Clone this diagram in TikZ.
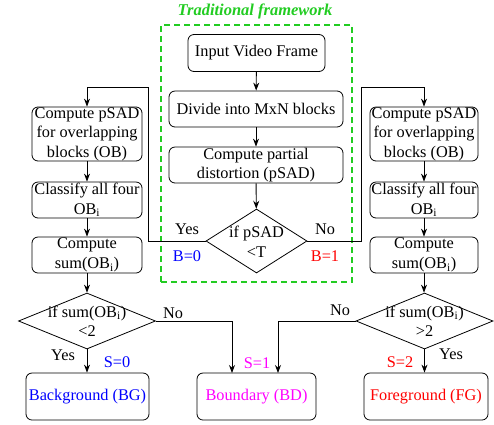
\documentclass[tikz,border=0pt]{standalone}
\usepackage{fontspec}
\setmainfont{Liberation Serif}
\usetikzlibrary{shapes.geometric,arrows.meta}
\definecolor{tgreen}{RGB}{34,204,34}
\definecolor{tblue}{RGB}{0,0,255}
\definecolor{tred}{RGB}{255,0,0}
\definecolor{tmag}{RGB}{255,0,255}
\begin{document}
\begin{tikzpicture}[x=1pt,y=-1pt,
  every node/.style={font=\fontsize{16.3}{19.5}\selectfont},
  box/.style={draw,rounded corners=6pt,line width=0.8pt,align=center,inner sep=0pt},
  dia/.style={draw,diamond,line width=0.8pt,inner sep=0pt},
  arr/.style={-{Stealth[length=8pt,width=6pt]},line width=0.9pt},
  lbl/.style={inner sep=0pt}]
\useasboundingbox (0,0) rectangle (494,424);
% title and frame
\node[lbl,text=tgreen,font=\fontsize{16.5}{19}\selectfont\bfseries\itshape] (title) at (255,11) {Traditional framework};
\node[draw=tgreen,dashed,dash pattern=on 6pt off 4pt,line width=1.6pt,minimum width=191pt,minimum height=257pt,inner sep=0pt] (frame) at (256.5,153.5) {};
% middle column
\node[box,minimum width=137pt,minimum height=37pt] (inp) at (256.5,53) {Input Video Frame};
\node[box,minimum width=174pt,minimum height=36pt] (div) at (256,109) {Divide into MxN blocks};
\node[box,minimum width=174pt,minimum height=36pt] (cpd) at (256,165) {Compute partial\\distortion (pSAD)};
\node[dia,minimum width=101pt,minimum height=64pt] (pdia) at (256.5,241) {};
\node[lbl,align=center] (pdiat) at (256.5,242) {if pSAD\\<T};
\node[box,minimum width=119pt,minimum height=47pt,text=tmag] (bd) at (256.5,396.5) {Boundary (BD)};
% left column
\node[box,minimum width=110pt,minimum height=54pt] (lop) at (87,134) {Compute pSAD\\for overlapping\\blocks (OB)};
\node[box,minimum width=110pt,minimum height=36pt] (lcl) at (87,200) {Classify all four\\OB\textsubscript{i}};
\node[box,minimum width=110pt,minimum height=36pt] (lsum) at (87,255) {Compute\\sum(OB\textsubscript{i})};
\node[dia,minimum width=137pt,minimum height=56pt] (ldia) at (87,321) {};
\node[lbl,align=center] (ldiat) at (87,321) {if sum(OB\textsubscript{i})\\<2};
\node[box,minimum width=123pt,minimum height=47pt,text=tblue] (bg) at (87.5,396.5) {Background (BG)};
% right column
\node[box,minimum width=108pt,minimum height=54pt] (rop) at (424,134) {Compute pSAD\\for overlapping\\blocks (OB)};
\node[box,minimum width=108pt,minimum height=36pt] (rcl) at (424,200) {Classify all four\\OB\textsubscript{i}};
\node[box,minimum width=108pt,minimum height=36pt] (rsum) at (424,255) {Compute\\sum(OB\textsubscript{i})};
\node[dia,minimum width=137pt,minimum height=56pt] (rdia) at (424.5,321) {};
\node[lbl,align=center] (rdiat) at (424.5,321) {if sum(OB\textsubscript{i})\\>2};
\node[box,minimum width=124pt,minimum height=47pt,text=tred] (fg) at (426,396.5) {Foreground (FG)};
% helper coordinates
\coordinate (lc) at (148,87);
\coordinate (rc) at (361,87);
\coordinate (bdl) at (232,373);
\coordinate (bdr) at (278,373);
% connectors
\draw[arr] (inp) -- (div);
\draw[arr] (div) -- (cpd);
\draw[arr] (cpd) -- (pdia);
\draw[arr] (pdia.west) -| (lc) -| (lop.north);
\draw[arr] (pdia.east) -| (rc) -| (rop.north);
\draw[arr] (lop) -- (lcl);
\draw[arr] (lcl) -- (lsum);
\draw[arr] (lsum) -- (ldia);
\draw[arr] (ldia.south) -- (ldia.south |- bg.north);
\draw[arr] (ldia.east) -| (bdl);
\draw[arr] (rop) -- (rcl);
\draw[arr] (rcl) -- (rsum);
\draw[arr] (rsum.south) -- (rsum.south |- rdia.north);
\draw[arr] (rdia.south) -- (rdia.south |- fg.north);
\draw[arr] (rdia.west) -| (bdr);
% labels
\node[lbl] (yes1) at (187,229) {Yes};
\node[lbl,text=tblue] (b0) at (187,256) {B=0};
\node[lbl] (no1) at (325,229) {No};
\node[lbl,text=tred] (b1) at (325,256) {B=1};
\node[lbl] (no2) at (173,313) {No};
\node[lbl] (yes2) at (63,355) {Yes};
\node[lbl,text=tblue] (s0) at (117,362) {S=0};
\node[lbl,text=tmag] (s1) at (257,363) {S=1};
\node[lbl] (no3) at (340,310) {No};
\node[lbl,text=tred] (s2) at (400,362) {S=2};
\node[lbl] (yes3) at (451,354) {Yes};
\end{tikzpicture}
\end{document}
